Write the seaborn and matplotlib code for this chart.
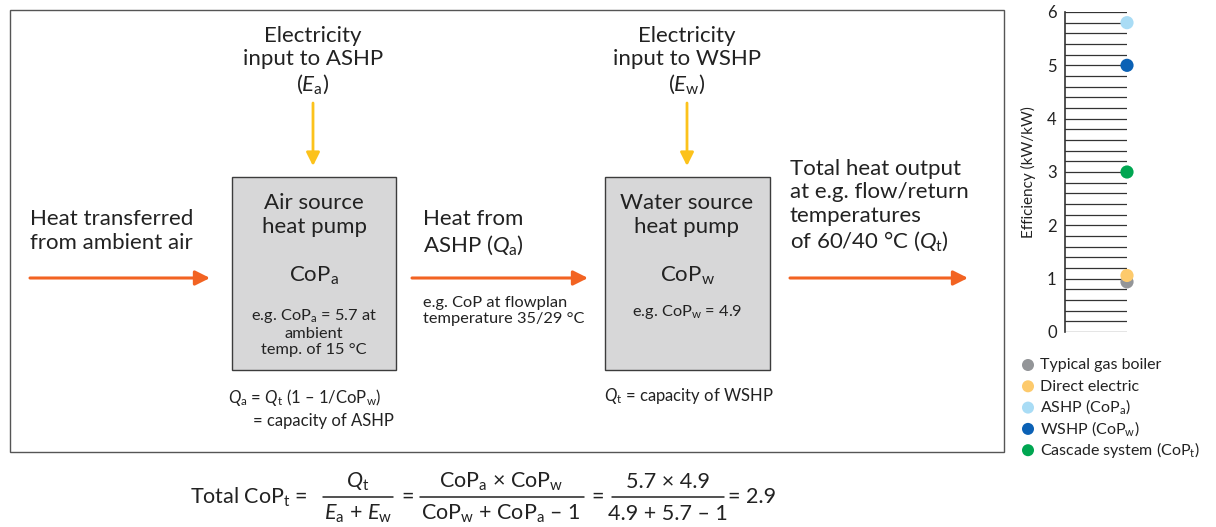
import numpy as np
import pandas as pd
import matplotlib
matplotlib.use('Agg')
import matplotlib.pyplot as plt
import seaborn as sns
from matplotlib.patches import Rectangle

sns.set_theme(style='white')
plt.rcParams['font.family'] = ['Lato', 'DejaVu Sans']
plt.rcParams['mathtext.fontset'] = 'custom'
plt.rcParams['mathtext.rm'] = 'Lato'
plt.rcParams['mathtext.it'] = 'Lato:italic'
plt.rcParams['mathtext.bf'] = 'Lato:bold'

# efficiency strip chart data
systems = ['Typical gas boiler', 'Direct electric', 'ASHP (CoP$_\\mathrm{a}$)',
           'WSHP (CoP$_\\mathrm{w}$)', 'Cascade system (CoP$_\\mathrm{t}$)']
efficiency = [0.94, 1.06, 5.8, 5.0, 3.0]
point_colors = ['#939598', '#fdca6c', '#a9dcf5', '#0b61b5', '#00a651']
y_ticks = [0, 1, 2, 3, 4, 5, 6]

TXT = '#222222'
ORANGE = '#f26322'
YELLOW = '#fcc21b'
BOX_FILL = '#d7d7d8'
BOX_EDGE = '#3c3c3c'

fig = plt.figure(figsize=(12.16, 5.27), dpi=100)

# ---------- diagram ----------
ax = fig.add_axes([0, 0, 1, 1])
ax.set_xlim(0, 1216)
ax.set_ylim(527, 0)
ax.axis('off')

ax.add_patch(Rectangle((10, 10), 994, 442, fill=False, ec='#555555', lw=1))


def arrow(x0, y0, x1, y1, color, lw=2.2, ms=22):
    ax.annotate('', xy=(x1, y1), xytext=(x0, y0),
                arrowprops=dict(arrowstyle='-|>', color=color, lw=lw,
                                mutation_scale=ms, shrinkA=0, shrinkB=0))


big = 16
small = 11.8
mid = 12

# electricity inputs
ax.text(313, 61, 'Electricity\ninput to ASHP\n($E_\\mathrm{a}$)', ha='center', va='center',
        fontsize=big, color=TXT, linespacing=1.2)
arrow(313, 103, 313, 166, YELLOW, lw=2, ms=20)
ax.text(687, 61, 'Electricity\ninput to WSHP\n($E_\\mathrm{w}$)', ha='center', va='center',
        fontsize=big, color=TXT, linespacing=1.2)
arrow(687, 103, 687, 166, YELLOW, lw=2, ms=20)

# boxes
ax.add_patch(Rectangle((232, 177), 164, 193, fc=BOX_FILL, ec=BOX_EDGE, lw=1))
ax.add_patch(Rectangle((605, 177), 165, 193, fc=BOX_FILL, ec=BOX_EDGE, lw=1))

ax.text(314, 215, 'Air source\nheat pump', ha='center', va='center', fontsize=big,
        color=TXT, linespacing=1.2)
ax.text(314, 276, 'CoP$_\\mathrm{a}$', ha='center', va='center', fontsize=big, color=TXT)
ax.text(314, 332, 'e.g. CoP$_\\mathrm{a}$ = 5.7 at\nambient\ntemp. of 15 °C', ha='center',
        va='center', fontsize=small, color=TXT, linespacing=1.15)

ax.text(687, 215, 'Water source\nheat pump', ha='center', va='center', fontsize=big,
        color=TXT, linespacing=1.2)
ax.text(687, 276, 'CoP$_\\mathrm{w}$', ha='center', va='center', fontsize=big, color=TXT)
ax.text(687, 312, 'e.g. CoP$_\\mathrm{w}$ = 4.9', ha='center', va='center', fontsize=small,
        color=TXT)

# below boxes
ax.text(228, 397, '$Q_\\mathrm{a}$ = $Q_\\mathrm{t}$ (1 – 1/CoP$_\\mathrm{w}$)', ha='left',
        va='center', fontsize=mid, color=TXT)
ax.text(253, 421, '= capacity of ASHP', ha='left', va='center', fontsize=mid, color=TXT)
ax.text(604, 396, '$Q_\\mathrm{t}$ = capacity of WSHP', ha='left', va='center', fontsize=mid,
        color=TXT)

# flow labels and arrows
ax.text(30, 231, 'Heat transferred\nfrom ambient air', ha='left', va='center', fontsize=big,
        color=TXT, linespacing=1.2)
arrow(30, 278, 210, 278, ORANGE)

ax.text(423, 233, 'Heat from\nASHP ($Q_\\mathrm{a}$)', ha='left', va='center', fontsize=big,
        color=TXT, linespacing=1.2)
arrow(412, 278, 588, 278, ORANGE)
ax.text(423, 311, 'e.g. CoP at flowplan\ntemperature 35/29 °C', ha='left', va='center',
        fontsize=small, color=TXT, linespacing=1.15)

ax.text(790, 206, 'Total heat output\nat e.g. flow/return\ntemperatures\nof 60/40 °C ($Q_\\mathrm{t}$)',
        ha='left', va='center', fontsize=big, color=TXT, linespacing=1.2)
arrow(790, 278, 968, 278, ORANGE)

# formula
fy = 497
fs = 15.5
ax.text(308, fy, 'Total CoP$_\\mathrm{t}$ =', ha='right', va='center', fontsize=fs, color=TXT)


def frac(xc, x0, x1, num, den):
    ax.plot([x0, x1], [fy, fy], color=TXT, lw=1.1)
    ax.text(xc, fy - 15, num, ha='center', va='center', fontsize=fs, color=TXT)
    ax.text(xc, fy + 17, den, ha='center', va='center', fontsize=fs, color=TXT)


frac(358, 323, 393, '$Q_\\mathrm{t}$', '$E_\\mathrm{a}$ + $E_\\mathrm{w}$')
ax.text(408, fy, '=', ha='center', va='center', fontsize=fs, color=TXT)
frac(501, 420, 584, 'CoP$_\\mathrm{a}$ × CoP$_\\mathrm{w}$', 'CoP$_\\mathrm{w}$ + CoP$_\\mathrm{a}$ – 1')
ax.text(598, fy, '=', ha='center', va='center', fontsize=fs, color=TXT)
frac(668, 612, 724, '5.7 × 4.9', '4.9 + 5.7 – 1')
ax.text(728, fy, '= 2.9', ha='left', va='center', fontsize=fs, color=TXT)

# ---------- efficiency chart ----------
cax = fig.add_axes([1065 / 1216, (527 - 332) / 527, 62 / 1216, 320 / 527])
df = pd.DataFrame({'system': systems, 'efficiency': efficiency, 'x': [1.0] * len(systems)})
cax.set_xlim(0, 1)
cax.set_ylim(0, 6)
cax.set_yticks(y_ticks)
cax.set_yticks(np.arange(0, 6.01, 0.2), minor=True)
cax.grid(which='both', axis='y', color='#333333', lw=0.9)
cax.set_xticks([])
for s in ['top', 'right', 'bottom']:
    cax.spines[s].set_visible(False)
cax.spines['left'].set_color('#333333')
cax.spines['left'].set_linewidth(1.2)
cax.tick_params(axis='y', which='both', length=0, labelsize=12, labelcolor=TXT, pad=6)
cax.set_axisbelow(True)
sns.scatterplot(data=df, x='x', y='efficiency', hue='system', palette=point_colors,
                s=90, edgecolor='none', ax=cax, clip_on=False, zorder=5, legend=False)
cax.set_xlabel('')
cax.set_ylabel('Efficiency (kW/kW)', fontsize=11, color=TXT, labelpad=8)

# legend, evenly spaced rows below the strip
for i, (name, col) in enumerate(zip(systems, point_colors)):
    ly = 365 + i * 21.3
    ax.scatter([1028], [ly], s=75, color=col, edgecolor='none', clip_on=False)
    ax.text(1040, ly + 4.5, name, ha='left', va='baseline', fontsize=11.5, color=TXT)

fig.savefig('out.png', dpi=100)
